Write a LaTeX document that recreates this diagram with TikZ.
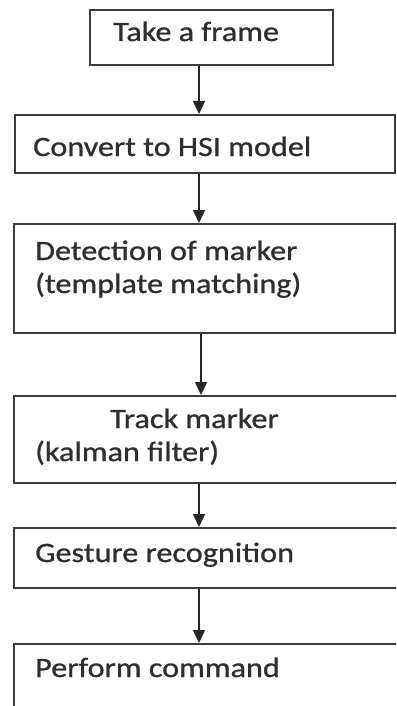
\documentclass[tikz,border=0pt]{standalone}
\usepackage{fontspec}
\setmainfont[FakeStretch=1.15,FakeBold=0.9]{Carlito}
\usetikzlibrary{arrows.meta}
\definecolor{boxline}{HTML}{3C3C3C}
\definecolor{inkgray}{HTML}{2E2E2E}
\tikzset{>={Triangle[length=13pt,width=12pt]}}

\begin{document}
\begin{tikzpicture}[x=1pt,y=-1pt]

  % one pt per pixel, y running downwards
  \tikzstyle{box}=[draw=boxline, line width=1.8pt, rectangle, anchor=north west, inner sep=0pt]
  \tikzstyle{txt}=[anchor=base west, inner sep=0pt, text=inkgray, font=\fontsize{28}{33}\selectfont]
  \tikzstyle{flow}=[->, line width=1.5pt, draw=black!85, fill=black!85]
  \useasboundingbox (0,0) rectangle (396,706);
  \clip (0,0) rectangle (396,706);

  % the steps, top to bottom
  \node[box, minimum width=243pt, minimum height=55pt] (frame) at (89,9) {};
  \node[txt] (frame-t) at (113,41) {Take a frame};

  \node[box, minimum width=380pt, minimum height=58pt] (hsi) at (14,114) {};
  \node[txt] (hsi-t) at (33,156) {Convert to HSI model};

  \node[box, minimum width=381pt, minimum height=109pt] (detect) at (13,223) {};
  \node[txt] (detect-a) at (35,260) {Detection of marker};
  \node[txt] (detect-b) at (35,293) {(template matching)};

  \node[box, minimum width=392pt, minimum height=87pt] (track) at (13,395) {};
  \node[txt] (track-a) at (110,428) {Track marker};
  \node[txt] (track-b) at (35,461) {(kalman filter)};

  \node[box, minimum width=392pt, minimum height=60pt] (gesture) at (13,527) {};
  \node[txt] (gesture-t) at (35,562) {Gesture recognition};

  \node[box, minimum width=392pt, minimum height=72pt] (command) at (13,643) {};
  \node[txt] (command-t) at (35,677) {Perform command};

  % arrows all run down one vertical line
  \coordinate (spine) at (199,0);
  \draw[flow] (frame.south -| spine) -- (hsi.north -| spine);
  \draw[flow] (hsi.south -| spine) -- (detect.north -| spine);
  \draw[flow] ([xshift=2pt]detect.south -| spine) -- ([xshift=2pt]track.north -| spine);
  \draw[flow] (track.south -| spine) -- (gesture.north -| spine);
  \draw[flow] (gesture.south -| spine) -- (command.north -| spine);

\end{tikzpicture}
\end{document}
